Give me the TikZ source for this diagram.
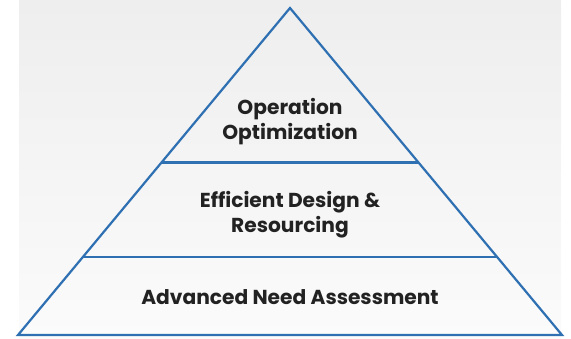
\documentclass[tikz,border=0pt]{standalone}
\usepackage{fontspec}
\setmainfont{Poppins}
\usetikzlibrary{calc}
\definecolor{pyrblue}{RGB}{46,112,178}
\definecolor{txtdark}{RGB}{34,34,34}
\definecolor{bgtop}{RGB}{238,238,238}
\definecolor{bgbot}{RGB}{251,251,251}
\tikzset{
  edge/.style={draw=pyrblue, line width=2.2pt, line join=miter},
  label/.style={text=txtdark, font=\bfseries\fontsize{20.2}{25}\selectfont, align=center, inner sep=0pt}
}
\begin{document}
\begin{tikzpicture}[x=1pt,y=1pt]
\useasboundingbox (0,0) rectangle (571,338);
\shade[top color=bgtop, bottom color=bgbot] (19,0) rectangle (561,338);
\coordinate (A) at (290,330);
\coordinate (L) at (18,3);
\coordinate (R) at (562,3);
\coordinate (L1) at ($(A)!0.4725!(L)$);
\coordinate (R1) at ($(A)!0.4725!(R)$);
\coordinate (L2) at ($(A)!0.7615!(L)$);
\coordinate (R2) at ($(A)!0.7615!(R)$);
\draw[edge] (A) -- (L) -- (R) -- cycle;
\draw[edge] (L1) -- (R1);
\draw[edge] (L2) -- (R2);
\node[label] (t1) at (290,216.5) {Operation\\Optimization};
\node[label] (t2) at (290,123.5) {Efficient Design \&\\Resourcing};
\node[label] (t3) at (290,41) {Advanced Need Assessment};
\end{tikzpicture}
\end{document}
